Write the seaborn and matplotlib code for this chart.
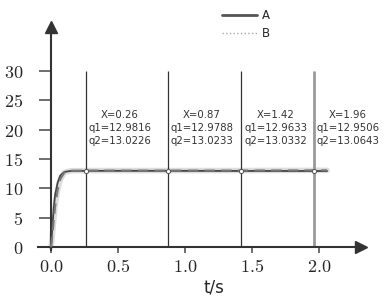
import matplotlib
matplotlib.use("Agg")
import matplotlib.pyplot as plt
from matplotlib.lines import Line2D
from matplotlib.ticker import FuncFormatter
import seaborn as sns
import pandas as pd

# 데이터
t = [0, 0.01, 0.02, 0.03, 0.05, 0.07, 0.1, 0.15, 0.26, 0.87, 1.42, 1.96, 2.06]
a = [0, 3.5, 6.5, 8.8, 11.0, 12.2, 12.8, 12.97, 12.9816, 12.9788, 12.9633, 12.9506, 12.95]
b = [0, 2.0, 4.5, 6.8, 9.8, 11.6, 12.7, 13.0, 13.0226, 13.0233, 13.0332, 13.0643, 13.065]

mark_t = [0.26, 0.87, 1.42, 1.96]
q1 = [12.9816, 12.9788, 12.9633, 12.9506]
q2 = [13.0226, 13.0233, 13.0332, 13.0643]

xticks = [0.0, 0.5, 1.0, 1.5, 2.0]
yticks = [0, 5, 10, 15, 20, 25, 30]

df = pd.DataFrame({"t": t, "A": a, "B": b})

sns.set_style("white")
plt.rcParams["mathtext.fontset"] = "cm"
plt.rcParams["font.family"] = ["DejaVu Sans"]

fig = plt.figure(figsize=(3.84, 3.04), dpi=100)
ax = fig.add_axes([0.099, 0.178, 0.841, 0.733])

# 그림자 + 곡선
ax.plot(df["t"], df["B"], color="#dcdcdc", lw=4, zorder=1)
sns.lineplot(data=df, x="t", y="A", color="#444444", lw=1.3, ax=ax, zorder=3)
sns.lineplot(data=df, x="t", y="B", color="#777777", lw=1.5, ls=(0, (5, 3)), ax=ax, zorder=4)

# 수직선과 주석
for i, (xm, v1, v2) in enumerate(zip(mark_t, q1, q2)):
    last = i == len(mark_t) - 1
    ax.vlines(xm, 0, 30, color="#999999" if last else "#333333",
              lw=2.0 if last else 0.9, zorder=2)
    ax.plot(xm, v1, "o", ms=3, mfc="white", mec="#555555", mew=0.7, zorder=5)
    ax.annotate(f"X={xm:.2f}\nq1={v1:.4f}\nq2={v2:.4f}", (xm, 20.3),
                xytext=(2, 0), textcoords="offset points", ha="left", va="center",
                multialignment="center", fontsize=7.3, color="#333333",
                linespacing=1.35)

ax.set_xlim(-0.097, 2.313)
ax.set_ylim(-0.5, 37.5)

for s in ["top", "right"]:
    ax.spines[s].set_visible(False)
ax.spines["left"].set_position(("data", 0))
ax.spines["bottom"].set_position(("data", 0))
for s in ["left", "bottom"]:
    ax.spines[s].set_color("#333333")
    ax.spines[s].set_linewidth(1.5)

# 축 화살표
ax.plot(1, 0, ">", color="#333333", ms=9, transform=ax.get_yaxis_transform(), clip_on=False)
ax.plot(0, 1, "^", color="#333333", ms=9, transform=ax.get_xaxis_transform(), clip_on=False)

ax.set_xticks(xticks)
ax.set_yticks(yticks)
ax.xaxis.set_major_formatter(FuncFormatter(lambda v, p: f"${v:.1f}$"))
ax.yaxis.set_major_formatter(FuncFormatter(lambda v, p: f"${v:.0f}$"))
ax.tick_params(axis="y", direction="out", length=9, width=1.2, color="#555555",
               pad=11, labelsize=13, left=True)
ax.tick_params(axis="x", direction="out", length=4, width=1.2, color="#555555",
               pad=4, labelsize=13, bottom=True)

ax.set_xlabel("t/s", fontsize=12)
ax.set_ylabel("")
ax.xaxis.set_label_coords(0.545, -0.13)

# 범례
handles = [Line2D([], [], color="#555555", lw=2),
           Line2D([], [], color="#aaaaaa", lw=1, ls=":")]
fig.legend(handles, ["A", "B"], loc="upper left", bbox_to_anchor=(0.55, 1.005),
           frameon=False, fontsize=8.5, handlelength=3.0, labelspacing=0.45,
           handletextpad=0.4)

fig.savefig("out.png", dpi=100)
